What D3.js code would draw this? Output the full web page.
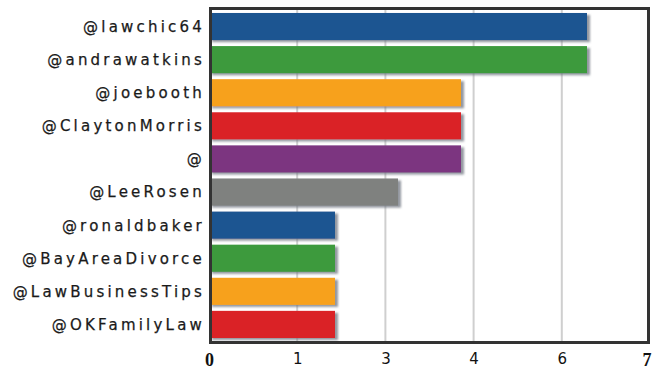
<!DOCTYPE html>
<html>
<head>
<meta charset="utf-8">
<script src="https://cdn.jsdelivr.net/npm/d3@7/dist/d3.min.js"></script>
<style>
  html, body { margin: 0; padding: 0; background: #fff; }
  svg { display: block; }
</style>
</head>
<body>
<svg id="chart" width="652" height="371"></svg>
<script>
// Accounts and their counts, top to bottom
const accounts = ["@lawchic64", "@andrawatkins", "@joebooth", "@ClaytonMorris", "@",
                  "@LeeRosen", "@ronaldbaker", "@BayAreaDivorce", "@LawBusinessTips", "@OKFamilyLaw"];
const counts = [6, 6, 4, 4, 4, 3, 2, 2, 2, 2];
const barColors = ["#1f5591", "#3d9a3c", "#f7a11a", "#da2026", "#7b3580",
                   "#7f817f", "#1f5591", "#3d9a3c", "#f7a11a", "#da2026"];
// Axis ticks: five equal steps over 0..7, labelled rounded
const tickValues = [0, 1.4, 2.8, 4.2, 5.6, 7];
const tickLabels = ["0", "1", "3", "4", "6", "7"];

const svg = d3.select("#chart");

const x = d3.scaleLinear().domain([0, 7]).range([209, 650]);
const y = d3.scaleBand().domain(accounts).range([10, 341]).paddingInner(0.18).paddingOuter(0.09);

const defs = svg.append("defs");
const f = defs.append("filter").attr("id", "shadow")
  .attr("x", "-5%").attr("y", "-20%").attr("width", "115%").attr("height", "150%");
f.append("feGaussianBlur").attr("in", "SourceAlpha").attr("stdDeviation", 0.9).attr("result", "b");
f.append("feOffset").attr("in", "b").attr("dx", 2.5).attr("dy", 1.5).attr("result", "o");
f.append("feFlood").attr("flood-color", "#6f7580").attr("flood-opacity", 0.75);
f.append("feComposite").attr("in2", "o").attr("operator", "in").attr("result", "s");
const m = f.append("feMerge");
m.append("feMergeNode").attr("in", "s");
m.append("feMergeNode").attr("in", "SourceGraphic");

// Vertical gridlines
svg.append("g").selectAll("line")
  .data(tickValues.slice(1, -1))
  .join("line")
  .attr("x1", d => x(d)).attr("x2", d => x(d))
  .attr("y1", 10).attr("y2", 341)
  .attr("stroke", "#cfcfcf").attr("stroke-width", 2);

// Bars
svg.append("g").selectAll("rect")
  .data(accounts)
  .join("rect")
  .attr("x", x(0))
  .attr("y", d => y(d))
  .attr("width", (d, i) => x(counts[i]) - x(0))
  .attr("height", y.bandwidth())
  .attr("fill", (d, i) => barColors[i])
  .attr("filter", "url(#shadow)");

// Plot frame
svg.append("rect")
  .attr("x", 210.5).attr("y", 8.5)
  .attr("width", 438).attr("height", 334)
  .attr("fill", "none").attr("stroke", "#333").attr("stroke-width", 3);

// Category labels
const yAxis = d3.axisLeft(y).tickSize(0).tickPadding(0);
const gy = svg.append("g").attr("transform", "translate(205,0)").call(yAxis);
gy.select(".domain").remove();
gy.selectAll("text")
  .attr("font-family", "'DejaVu Sans', Verdana, sans-serif")
  .attr("font-size", 15)
  .attr("letter-spacing", "3.2px")
  .attr("fill", "#1a1a1a")
  .attr("stroke", "#1a1a1a")
  .attr("stroke-width", 0.25)
  .attr("dy", "0.36em");

// Value axis labels
const xAxis = d3.axisBottom(x).tickValues(tickValues).tickSize(0).tickPadding(0)
  .tickFormat((d, i) => tickLabels[i]);
const gx = svg.append("g").attr("transform", "translate(0,353)").call(xAxis);
gx.select(".domain").remove();
gx.selectAll("text")
  .attr("dy", "0.71em")
  .attr("fill", "#111")
  .attr("font-family", (d, i) => (i === 0 || i === tickValues.length - 1)
    ? "'Liberation Serif', serif" : "'DejaVu Sans', Verdana, sans-serif")
  .attr("font-weight", (d, i) => (i === 0 || i === tickValues.length - 1) ? "bold" : "normal")
  .attr("font-size", (d, i) => (i === 0 || i === tickValues.length - 1) ? 18 : 15)
  .attr("text-anchor", (d, i) => i === tickValues.length - 1 ? "end" : "middle")
  .attr("dx", (d, i) => i === tickValues.length - 1 ? 1 : 0);
</script>
</body>
</html>
